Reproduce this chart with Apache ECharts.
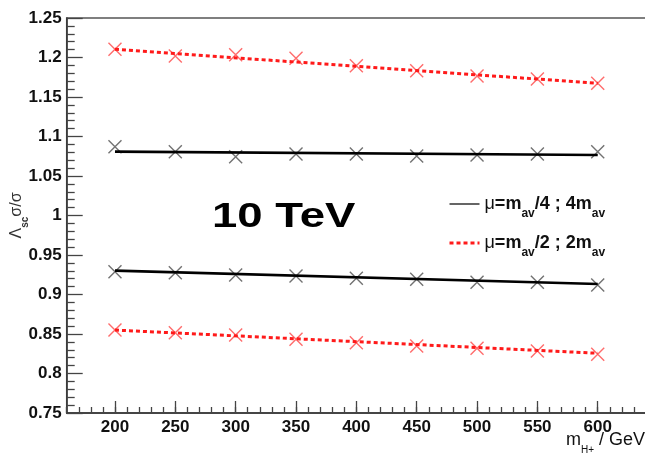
<!DOCTYPE html>
<html>
<head>
<meta charset="UTF-8">
<title>10 TeV scale variation</title>
<script src="https://cdn.jsdelivr.net/npm/echarts@6/dist/echarts.min.js"></script>
<style>
  html, body { margin: 0; padding: 0; background: #fff; }
  #chart { width: 645px; height: 453px; }
</style>
</head>
<body>
<div id="chart"></div>
<script>
// charged Higgs mass points (GeV)
var masses = [200, 250, 300, 350, 400, 450, 500, 550, 600];
var xTicks = [200, 250, 300, 350, 400, 450, 500, 550, 600];

// ratio points, mu = m_av/2 ; 2m_av  (red)
var redUp   = [1.2104, 1.2019, 1.2035, 1.1990, 1.1897, 1.1833, 1.1766, 1.1728, 1.1673];
var redDown = [0.8551, 0.8517, 0.8487, 0.8433, 0.8390, 0.8348, 0.8319, 0.8285, 0.8243];
// ratio points, mu = m_av/4 ; 4m_av  (black)
var blkUp   = [1.0871, 1.0808, 1.0744, 1.0778, 1.0778, 1.0753, 1.0766, 1.0778, 1.0808];
var blkDown = [0.9289, 0.9276, 0.9247, 0.9234, 0.9205, 0.9192, 0.9154, 0.9154, 0.9120];

// straight-line fits, drawn from first to last mass
var fitX       = [200, 600];
var fitRedUp   = [1.2104, 1.1673];
var fitRedDown = [0.8550, 0.8256];
var fitBlkUp   = [1.0808, 1.0766];
var fitBlkDown = [0.9301, 0.9133];

var NAME_BLK = 'μ=m_av/4 ; 4m_av';
var NAME_RED = 'μ=m_av/2 ; 2m_av';

function pairs(xs, ys) {
    return xs.map(function (x, i) { return [x, ys[i]]; });
}

var FONT = 'Liberation Sans';
var cross = 'path://M0,0L10,10M10,0L0,10';

function markers(name, ys, color) {
    return {
        name: name,
        type: 'scatter',
        data: pairs(masses, ys),
        symbol: cross,
        symbolSize: 13,
        itemStyle: { color: 'transparent', borderColor: color, borderWidth: 1.4 },
        z: 2,
        silent: true
    };
}

function fit(name, ys, color, width, type) {
    return {
        name: name,
        type: 'line',
        data: pairs(fitX, ys),
        symbol: 'none',
        lineStyle: { color: color, width: width, type: type, cap: 'butt' },
        itemStyle: { color: color },
        z: 3,
        silent: true
    };
}

var chart = echarts.init(document.getElementById('chart'));

var option = {
    animation: false,
    backgroundColor: '#fff',
    graphic: [
        {
            // energy label, stretched like the original
            type: 'text',
            x: 212,
            y: 217,
            scaleX: 1.3,
            silent: true,
            style: {
                text: '10 TeV',
                fontFamily: FONT,
                fontWeight: 'bold',
                fontSize: 35,
                fill: '#000',
                align: 'left',
                verticalAlign: 'middle'
            }
        }
    ],
    legend: {
        orient: 'vertical',
        left: 443,
        top: 190,
        itemWidth: 30,
        itemHeight: 14,
        itemGap: 14,
        itemStyle: { opacity: 0, color: 'transparent', borderWidth: 0 },
        data: [
            { name: NAME_BLK, itemStyle: { opacity: 0 }, lineStyle: { color: '#111', width: 1.3, type: 'solid' } },
            { name: NAME_RED, itemStyle: { opacity: 0 }, lineStyle: { color: '#ff1a1a', width: 3, type: [4, 3] } }
        ],
        formatter: function (name) {
            var k = name === NAME_BLK ? '4' : '2';
            return '{u|μ}{n|=m}{s|av}{n|/' + k + ' ; ' + k + 'm}{s|av}';
        },
        textStyle: {
            padding: [0, 0, 0, 0],
            rich: {
                u: { fontFamily: FONT, fontSize: 18, color: '#111', lineHeight: 24 },
                n: { fontFamily: FONT, fontSize: 18, fontWeight: 'bold', color: '#111', lineHeight: 24 },
                s: { fontFamily: FONT, fontSize: 12, fontWeight: 'bold', color: '#111', lineHeight: 24, verticalAlign: 'bottom', padding: [0, 0, -4, 0] }
            }
        }
    },
    grid: {
        left: 66.7,
        top: 18,
        right: -1,
        bottom: 40,
        containLabel: false,
        outerBoundsMode: 'none',
        show: true,
        borderColor: '#555',
        borderWidth: 1.5,
        backgroundColor: 'transparent'
    },
    xAxis: [
        {
            type: 'value',
            min: 160,
            max: 640,
            interval: 10,
            position: 'bottom',
            axisLine: { show: true, onZero: false, lineStyle: { color: '#333', width: 1.5 } },
            axisTick: { show: true, inside: true, length: 12, customValues: xTicks, lineStyle: { color: '#444', width: 1.3 } },
            axisLabel: {
                customValues: xTicks,
                margin: 6,
                fontFamily: FONT,
                fontWeight: 'bold',
                fontSize: 17,
                color: '#111'
            },
            splitLine: { show: false },
            name: '{n|m}{s|H+}{n| / GeV}',
            nameLocation: 'end',
            nameGap: -1,
            nameMoveOverlap: false,
            nameTextStyle: {
                align: 'right',
                verticalAlign: 'top',
                padding: [17, 0, 0, 0],
                rich: {
                    n: { fontFamily: FONT, fontSize: 18, color: '#111', lineHeight: 20 },
                    s: { fontFamily: FONT, fontSize: 10, color: '#111', lineHeight: 20, verticalAlign: 'bottom', padding: [0, 0, -5, 0] }
                }
            }
        },
        {
            type: 'value',
            min: 160,
            max: 640,
            interval: 10,
            position: 'bottom',
            offset: 0,
            axisLine: { show: false, onZero: false },
            axisTick: { show: true, inside: true, length: 6, lineStyle: { color: '#444', width: 1.3 } },
            axisLabel: { show: false },
            splitLine: { show: false }
        }
    ],
    yAxis: {
        type: 'value',
        min: 0.75,
        max: 1.25,
        interval: 0.05,
        axisLine: { show: true, onZero: false, lineStyle: { color: '#333', width: 1.5 } },
        axisTick: { show: true, inside: true, length: 16, lineStyle: { color: '#444', width: 1.3 } },
        minorTick: { show: true, splitNumber: 5, length: 8, lineStyle: { color: '#444', width: 1.3 } },
        axisLabel: {
            margin: 5,
            padding: [5, 0, 0, 0],
            fontFamily: FONT,
            fontWeight: 'bold',
            fontSize: 17,
            color: '#111'
        },
        splitLine: { show: false },
        name: '{n|Λ}{s|sc}{n|σ/σ}',
        nameLocation: 'middle',
        nameRotate: 90,
        nameGap: 40,
        nameMoveOverlap: false,
        nameTextStyle: {
            rich: {
                n: { fontFamily: FONT, fontSize: 16, color: '#333', lineHeight: 20 },
                s: { fontFamily: FONT, fontSize: 10, fontWeight: 'bold', color: '#333', lineHeight: 20, verticalAlign: 'bottom', padding: [0, 0, -4, 0] }
            }
        }
    },
    series: [
        markers('pts-red-up', redUp, 'rgba(255,40,40,0.85)'),
        markers('pts-red-down', redDown, 'rgba(255,40,40,0.85)'),
        markers('pts-blk-up', blkUp, 'rgba(60,60,60,0.9)'),
        markers('pts-blk-down', blkDown, 'rgba(60,60,60,0.9)'),
        fit(NAME_RED, fitRedUp, '#ff1a1a', 3, [4, 3]),
        fit(NAME_RED, fitRedDown, '#ff1a1a', 3, [4, 3]),
        fit(NAME_BLK, fitBlkUp, '#000', 2.7, 'solid'),
        fit(NAME_BLK, fitBlkDown, '#000', 2.7, 'solid')
    ]
};

chart.setOption(option);
</script>
</body>
</html>
